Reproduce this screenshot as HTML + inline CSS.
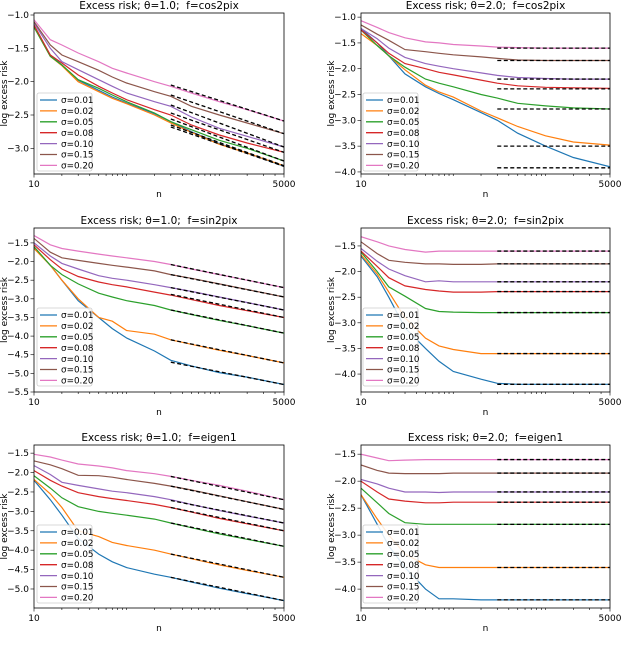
<!DOCTYPE html>
<html><head><meta charset="utf-8"><style>
body{margin:0;background:#fff}
svg{display:block;font-family:"DejaVu Sans","Liberation Sans",sans-serif}
svg text{white-space:pre}
</style></head><body>
<svg id="c" width="640" height="650" viewBox="0 0 640 650"></svg>
<script>
const N=[10,15,20,30,50,70,100,200,300,500,1000,2000,5000];
const sigmaLabels=["σ=0.01","σ=0.02","σ=0.05","σ=0.08","σ=0.10","σ=0.15","σ=0.20"];
const colors=["#1f77b4","#ff7f0e","#2ca02c","#d62728","#9467bd","#8c564b","#e377c2"];
const xTickLabels=["10","5000"];
const titles=["Excess risk; θ=1.0;  f=cos2pix","Excess risk; θ=2.0;  f=cos2pix","Excess risk; θ=1.0;  f=sin2pix","Excess risk; θ=2.0;  f=sin2pix","Excess risk; θ=1.0;  f=eigen1","Excess risk; θ=2.0;  f=eigen1"];
const yTicks1=[-1.0,-1.5,-2.0,-2.5,-3.0];
const yTicks2=[-1.0,-1.5,-2.0,-2.5,-3.0,-3.5,-4.0];
const yTicks3=[-1.5,-2.0,-2.5,-3.0,-3.5,-4.0,-4.5,-5.0,-5.5];
const yTicks4=[-1.5,-2.0,-2.5,-3.0,-3.5,-4.0];
const yTicks5=[-1.5,-2.0,-2.5,-3.0,-3.5,-4.0,-4.5,-5.0];
const yTicks6=[-1.5,-2.0,-2.5,-3.0,-3.5,-4.0];
const yRange1=[-3.385,-0.97],yRange2=[-4.04,-0.92],yRange3=[-5.5,-1.10],yRange4=[-4.35,-1.15],yRange5=[-5.49,-1.29],yRange6=[-4.35,-1.33];
const p1=[
[-1.17,-1.6,-1.75,-1.98,-2.13,-2.23,-2.32,-2.48,-2.6,-2.75,-2.93,-3.07,-3.27],
[-1.18,-1.62,-1.76,-2.0,-2.15,-2.25,-2.33,-2.5,-2.62,-2.76,-2.94,-3.07,-3.26],
[-1.18,-1.62,-1.75,-1.97,-2.1,-2.2,-2.3,-2.47,-2.6,-2.72,-2.88,-3.0,-3.19],
[-1.15,-1.6,-1.72,-1.9,-2.07,-2.17,-2.27,-2.42,-2.5,-2.65,-2.8,-2.92,-3.06],
[-1.12,-1.5,-1.7,-1.82,-1.97,-2.07,-2.17,-2.3,-2.37,-2.53,-2.7,-2.82,-2.98],
[-1.1,-1.45,-1.6,-1.7,-1.83,-1.93,-2.02,-2.15,-2.22,-2.37,-2.5,-2.62,-2.78],
[-1.07,-1.37,-1.45,-1.57,-1.7,-1.8,-1.87,-2.0,-2.07,-2.17,-2.3,-2.42,-2.59]];
const p2=[
[-1.22,-1.5,-1.75,-2.1,-2.35,-2.48,-2.6,-2.85,-3.0,-3.25,-3.5,-3.72,-3.9],
[-1.32,-1.55,-1.75,-2.02,-2.32,-2.45,-2.55,-2.82,-2.95,-3.12,-3.3,-3.42,-3.48],
[-1.25,-1.55,-1.75,-1.97,-2.2,-2.28,-2.35,-2.5,-2.57,-2.67,-2.72,-2.76,-2.78],
[-1.25,-1.5,-1.7,-1.9,-2.0,-2.07,-2.12,-2.22,-2.28,-2.33,-2.36,-2.37,-2.38],
[-1.22,-1.42,-1.6,-1.78,-1.9,-1.95,-2.0,-2.08,-2.13,-2.17,-2.19,-2.2,-2.2],
[-1.15,-1.33,-1.45,-1.63,-1.67,-1.7,-1.73,-1.77,-1.8,-1.83,-1.84,-1.84,-1.84],
[-1.07,-1.2,-1.3,-1.4,-1.48,-1.5,-1.53,-1.56,-1.58,-1.59,-1.6,-1.6,-1.6]];
const p3=[
[-1.62,-2.1,-2.5,-3.05,-3.5,-3.8,-4.05,-4.4,-4.65,-4.8,-4.98,-5.1,-5.3],
[-1.65,-2.1,-2.5,-3.0,-3.5,-3.6,-3.85,-3.95,-4.1,-4.22,-4.38,-4.52,-4.72],
[-1.6,-2.1,-2.35,-2.6,-2.85,-2.95,-3.05,-3.18,-3.3,-3.42,-3.58,-3.72,-3.92],
[-1.55,-1.95,-2.2,-2.4,-2.55,-2.62,-2.68,-2.82,-2.9,-3.02,-3.18,-3.32,-3.5],
[-1.5,-1.85,-2.05,-2.2,-2.38,-2.45,-2.5,-2.62,-2.7,-2.8,-2.95,-3.1,-3.3],
[-1.38,-1.75,-1.9,-1.97,-2.05,-2.1,-2.15,-2.25,-2.35,-2.45,-2.6,-2.75,-2.95],
[-1.3,-1.55,-1.65,-1.72,-1.8,-1.85,-1.9,-2.0,-2.08,-2.2,-2.35,-2.5,-2.7]];
const p4=[
[-1.7,-2.1,-2.5,-3.1,-3.5,-3.75,-3.95,-4.1,-4.18,-4.2,-4.2,-4.2,-4.2],
[-1.67,-2.05,-2.4,-2.9,-3.3,-3.45,-3.52,-3.6,-3.6,-3.6,-3.6,-3.6,-3.6],
[-1.62,-2.0,-2.3,-2.48,-2.72,-2.78,-2.79,-2.8,-2.8,-2.8,-2.8,-2.8,-2.8],
[-1.6,-1.9,-2.12,-2.28,-2.35,-2.38,-2.4,-2.4,-2.39,-2.39,-2.39,-2.39,-2.39],
[-1.55,-1.8,-1.95,-2.08,-2.2,-2.18,-2.2,-2.2,-2.2,-2.2,-2.2,-2.2,-2.2],
[-1.42,-1.65,-1.78,-1.82,-1.85,-1.85,-1.86,-1.86,-1.85,-1.85,-1.85,-1.85,-1.85],
[-1.32,-1.42,-1.5,-1.57,-1.62,-1.6,-1.6,-1.6,-1.6,-1.6,-1.6,-1.6,-1.6]];
const p5=[
[-2.2,-2.7,-3.1,-3.7,-4.1,-4.3,-4.45,-4.62,-4.7,-4.82,-4.98,-5.12,-5.3],
[-2.18,-2.55,-2.9,-3.5,-3.65,-3.8,-3.88,-4.0,-4.1,-4.22,-4.38,-4.52,-4.7],
[-2.08,-2.4,-2.65,-2.88,-3.0,-3.05,-3.1,-3.2,-3.3,-3.42,-3.58,-3.72,-3.9],
[-1.95,-2.2,-2.35,-2.52,-2.62,-2.67,-2.72,-2.82,-2.9,-3.02,-3.18,-3.32,-3.5],
[-1.82,-2.05,-2.25,-2.33,-2.42,-2.48,-2.52,-2.62,-2.7,-2.82,-2.98,-3.12,-3.3],
[-1.7,-1.8,-1.9,-2.07,-2.08,-2.12,-2.18,-2.28,-2.35,-2.45,-2.6,-2.75,-2.95],
[-1.53,-1.6,-1.68,-1.78,-1.83,-1.88,-1.95,-2.03,-2.1,-2.2,-2.33,-2.48,-2.7]];
const p6=[
[-2.25,-2.8,-3.2,-3.6,-4.0,-4.18,-4.18,-4.2,-4.2,-4.2,-4.2,-4.2,-4.2],
[-2.25,-2.7,-3.0,-3.35,-3.55,-3.6,-3.6,-3.6,-3.6,-3.6,-3.6,-3.6,-3.6],
[-2.13,-2.4,-2.6,-2.77,-2.8,-2.8,-2.8,-2.8,-2.8,-2.8,-2.8,-2.8,-2.8],
[-2.0,-2.2,-2.33,-2.37,-2.4,-2.4,-2.39,-2.39,-2.39,-2.39,-2.39,-2.39,-2.39],
[-1.97,-2.05,-2.13,-2.2,-2.2,-2.21,-2.2,-2.2,-2.2,-2.2,-2.2,-2.2,-2.2],
[-1.7,-1.8,-1.85,-1.86,-1.86,-1.86,-1.85,-1.85,-1.85,-1.85,-1.85,-1.85,-1.85],
[-1.5,-1.57,-1.62,-1.61,-1.6,-1.6,-1.6,-1.6,-1.6,-1.6,-1.6,-1.6,-1.6]];
const dashN=[300,5000];
const dash1Start=[-2.68,-2.65,-2.56,-2.47,-2.35,-2.2,-2.05];
const dash1End=[-3.27,-3.26,-3.19,-3.06,-2.98,-2.78,-2.59];
const dash2Level=[-3.92,-3.5,-2.78,-2.39,-2.2,-1.84,-1.6];
const dash3Start=[-4.7,-4.1,-3.3,-2.88,-2.7,-2.35,-2.08];
const dash3End=[-5.3,-4.72,-3.92,-3.5,-3.3,-2.95,-2.7];
const dash4Level=[-4.2,-3.6,-2.8,-2.39,-2.2,-1.85,-1.6];
const dash5Start=[-4.7,-4.1,-3.3,-2.9,-2.72,-2.35,-2.1];
const dash5End=[-5.3,-4.7,-3.9,-3.5,-3.3,-2.95,-2.7];
const dash6Level=[-4.2,-3.6,-2.8,-2.39,-2.2,-1.85,-1.6];

const NS="http://www.w3.org/2000/svg";
const svg=document.getElementById("c");
function mk(t,a,p){const e=document.createElementNS(NS,t);for(const k in a)e.setAttribute(k,a[k]);(p||svg).appendChild(e);return e;}
const panels=[
{x0:34,x1:284,y0:13,y1:174,d:p1,yt:yTicks1,yr:yRange1,ds:dash1Start,de:dash1End,leg:[37,93]},
{x0:361,x1:610,y0:13,y1:174,d:p2,yt:yTicks2,yr:yRange2,ds:dash2Level,de:dash2Level,leg:[363,93]},
{x0:34,x1:284,y0:228,y1:392,d:p3,yt:yTicks3,yr:yRange3,ds:dash3Start,de:dash3End,leg:[37,308]},
{x0:361,x1:610,y0:228,y1:392,d:p4,yt:yTicks4,yr:yRange4,ds:dash4Level,de:dash4Level,leg:[363,308]},
{x0:34,x1:284,y0:445,y1:608,d:p5,yt:yTicks5,yr:yRange5,ds:dash5Start,de:dash5End,leg:[37,525]},
{x0:361,x1:610,y0:445,y1:608,d:p6,yt:yTicks6,yr:yRange6,ds:dash6Level,de:dash6Level,leg:[363,525]}];
panels.forEach((P,pi)=>{
  const g=mk("g",{});
  
  
  const xs=n=>P.x0+(Math.log10(n)-1)/Math.log10(500)*(P.x1-P.x0);
  const ys=v=>P.y1-(v-P.yr[0])/(P.yr[1]-P.yr[0])*(P.y1-P.y0);
  const cp=mk("clipPath",{id:"cp"+pi},g);mk("rect",{x:P.x0,y:P.y0,width:P.x1-P.x0,height:P.y1-P.y0},cp);
  const t=mk("text",{x:(P.x0+P.x1)/2,y:P.y0-4,"text-anchor":"middle","font-size":"10.5"},g);t.textContent=titles[pi];
  
  const pl=mk("g",{"clip-path":"url(#cp"+pi+")"},g);
  P.d.forEach((s,si)=>{
    const pth=mk("polyline",{points:s.map((v,i)=>xs(N[i]).toFixed(1)+","+ys(v).toFixed(1)).join(" "),fill:"none",stroke:colors[si],"stroke-width":1.2},pl);
    
    
  });
  P.ds.forEach((v,si)=>{
    const l=mk("line",{x1:xs(dashN[0]),y1:ys(v),x2:xs(dashN[1]),y2:ys(P.de[si]),stroke:"#000","stroke-width":1.3,"stroke-dasharray":"4,2.5"},pl);
    
  });
  mk("rect",{x:P.x0,y:P.y0,width:P.x1-P.x0,height:P.y1-P.y0,fill:"none",stroke:"#000","stroke-width":0.8},g);
  for(let dec=10;dec<=1000;dec*=10)for(let k=1;k<10;k++){const n=dec*k;if(n<10||n>5000)continue;
    const big=(n===10||n===5000);mk("line",{x1:xs(n),x2:xs(n),y1:P.y1,y2:P.y1+(big?3.5:2),stroke:"#000","stroke-width":0.6},g);}
  [10,5000].forEach((n,i)=>{const tt=mk("text",{x:xs(n),y:P.y1+13,"text-anchor":"middle","font-size":"9"},g);tt.textContent=xTickLabels[i];
    });
  const xl=mk("text",{x:(P.x0+P.x1)/2,y:P.y1+23,"text-anchor":"middle","font-size":"9"},g);xl.textContent="n";
  
  P.yt.forEach(v=>{const y=ys(v);mk("line",{x1:P.x0-3.5,x2:P.x0,y1:y,y2:y,stroke:"#000","stroke-width":0.6},g);
    const tt=mk("text",{x:P.x0-5,y:y+3,"text-anchor":"end","font-size":"9"},g);tt.textContent=v.toFixed(1).replace("-","−");
    });
  const yl=mk("text",{x:0,y:0,transform:"translate("+(P.x0-27)+","+((P.y0+P.y1)/2)+") rotate(-90)","text-anchor":"middle","font-size":"9"},g);yl.textContent="log excess risk";
  
  const lg=mk("g",{},g);
  
  const [lx,ly]=P.leg;
  mk("rect",{x:lx,y:ly,width:55,height:78,rx:2,fill:"#fff","fill-opacity":0.85,stroke:"#ccc","stroke-width":0.8},lg);
  sigmaLabels.forEach((s,si)=>{const yy=ly+7+si*10.9;
    const e=mk("g",{},lg);
    
    mk("line",{x1:lx+3,x2:lx+20,y1:yy,y2:yy,stroke:colors[si],"stroke-width":1.3},e);
    const tt=mk("text",{x:lx+24,y:yy+3.2,"font-size":"8.8"},e);tt.textContent=s;});
});
</script>
</body></html>
